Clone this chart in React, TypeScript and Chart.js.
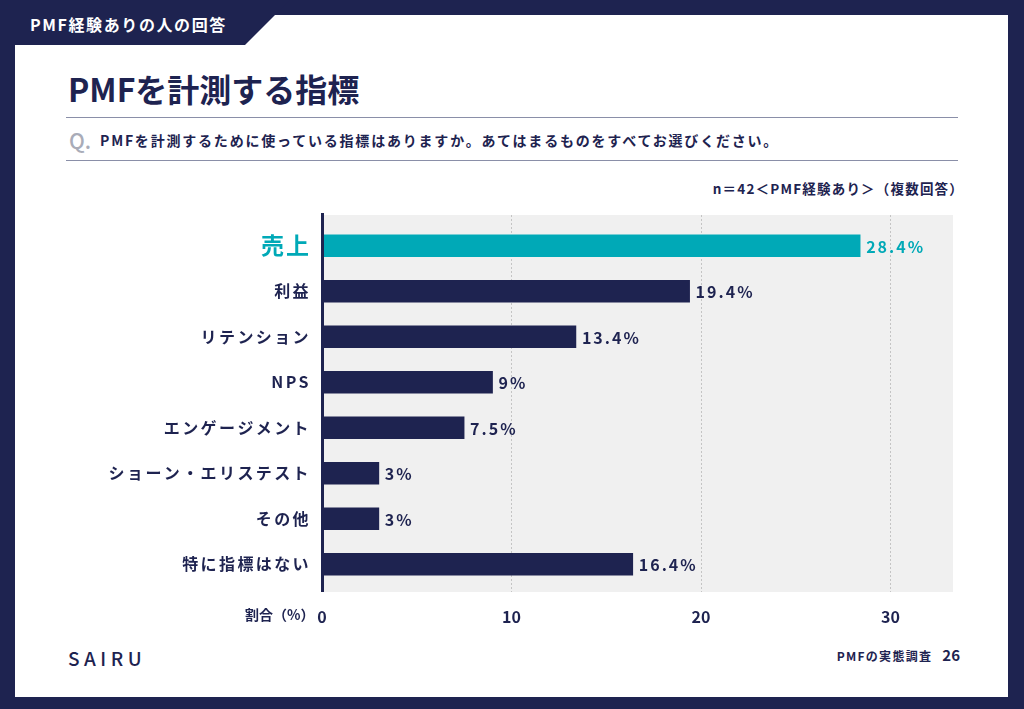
import React, { useEffect, useRef } from "react";
import { Chart, registerables } from "chart.js";

Chart.register(...registerables);

const categories = ["売上", "利益", "リテンション", "NPS", "エンゲージメント", "ショーン・エリステスト", "その他", "特に指標はない"];
const values = [28.4, 19.4, 13.4, 9, 7.5, 3, 3, 16.4];
const valueLabels = ["28.4%", "19.4%", "13.4%", "9%", "7.5%", "3%", "3%", "16.4%"];
const xTickValues = [0, 10, 20, 30];
const xMax = 33.3;

const NAVY = "#1e2350";
const TEAL = "#00a9b7";
const FONT = '"Noto Sans CJK JP", "Noto Sans", sans-serif';

const chartDecor = {
  id: "chartDecor",
  beforeDatasetsDraw(chart: any) {
    const { ctx, chartArea } = chart;
    const x = chart.scales.x;
    ctx.save();
    ctx.fillStyle = "#f0f0f0";
    ctx.fillRect(chartArea.left, chartArea.top - 8, chartArea.right - chartArea.left, chartArea.bottom - chartArea.top + 13);
    ctx.strokeStyle = "#c4c4c4";
    ctx.lineWidth = 1;
    ctx.setLineDash([2, 2]);
    xTickValues.forEach((v) => {
      if (v === 0) return;
      const px = Math.round(x.getPixelForValue(v)) + 0.5;
      ctx.beginPath();
      ctx.moveTo(px, chartArea.top - 8);
      ctx.lineTo(px, chartArea.bottom + 5);
      ctx.stroke();
    });
    ctx.restore();
  },
  afterDatasetsDraw(chart: any) {
    const { ctx, chartArea } = chart;
    const meta = chart.getDatasetMeta(0);
    const y = chart.scales.y;
    ctx.save();
    ctx.fillStyle = NAVY;
    ctx.fillRect(chartArea.left - 1, chartArea.top - 10, 3, chartArea.bottom - chartArea.top + 15);
    ctx.textBaseline = "middle";
    ctx.textAlign = "left";
    (ctx as any).letterSpacing = "2px";
    meta.data.forEach((bar: any, i: number) => {
      ctx.fillStyle = i === 0 ? TEAL : NAVY;
      ctx.font = `700 16px ${FONT}`;
      ctx.fillText(valueLabels[i], bar.x + 6, bar.y + 1);
    });
    ctx.textAlign = "right";
    categories.forEach((c, i) => {
      const py = y.getPixelForValue(i);
      if (i === 0) {
        ctx.fillStyle = TEAL;
        ctx.font = `700 23px ${FONT}`;
        (ctx as any).letterSpacing = "2px";
      } else {
        ctx.fillStyle = NAVY;
        ctx.font = `700 16px ${FONT}`;
        (ctx as any).letterSpacing = "2.4px";
      }
      ctx.fillText(c, chartArea.left - 11, py);
    });
    ctx.restore();
  },
};

function BarChart() {
  const ref = useRef<HTMLCanvasElement | null>(null);
  useEffect(() => {
    if (!ref.current) return;
    const chart = new Chart(ref.current, {
      type: "bar",
      data: {
        labels: categories,
        datasets: [
          {
            data: values,
            backgroundColor: values.map((_, i) => (i === 0 ? TEAL : NAVY)),
            barThickness: 22,
            borderWidth: 0,
          },
        ],
      },
      options: {
        indexAxis: "y",
        animation: false,
        responsive: false,
        devicePixelRatio: 1,
        layout: { padding: { top: 23, right: 47, left: 0, bottom: 0 } },
        plugins: { legend: { display: false }, tooltip: { enabled: false } },
        scales: {
          x: {
            min: 0,
            max: xMax,
            grid: { display: false, drawTicks: false },
            border: { display: false },
            afterBuildTicks: (scale: any) => {
              scale.ticks = xTickValues.map((v) => ({ value: v }));
            },
            afterFit: (scale: any) => {
              scale.height = 53;
            },
            ticks: {
              padding: 20,
              color: NAVY,
              font: { family: FONT, size: 16, weight: "bold" },
              maxRotation: 0,
            },
          },
          y: {
            grid: { display: false, drawTicks: false },
            border: { display: false },
            ticks: { display: false },
            afterFit: (scale: any) => {
              scale.width = 322;
            },
          },
        },
      },
      plugins: [chartDecor],
    } as any);
    return () => chart.destroy();
  }, []);
  return (
    <canvas
      ref={ref}
      width={1000}
      height={440}
      style={{ position: "absolute", left: 0, top: 200, width: 1000, height: 440 }}
    />
  );
}

export default function App() {
  const abs = (s: React.CSSProperties): React.CSSProperties => ({ position: "absolute", ...s });
  return (
    <div style={abs({ left: 0, top: 0, width: 1024, height: 709, background: NAVY, fontFamily: FONT, overflow: "hidden" })}>
      <div style={abs({ left: 15, top: 15, width: 993, height: 682, background: "#ffffff" })} />
      <div
        style={abs({
          left: 0,
          top: 0,
          width: 290,
          height: 45,
          background: NAVY,
          clipPath: "polygon(0 0, 290px 0, 290px 0px, 245px 45px, 0 45px)",
        })}
      />
      <div style={abs({ left: 30, top: 13, color: "#ffffff", fontSize: 16, fontWeight: 700, letterSpacing: 1.6, lineHeight: "22px", whiteSpace: "nowrap" })}>
        PMF経験ありの人の回答
      </div>
      <div style={abs({ left: 68, top: 66, color: NAVY, fontSize: 32, fontWeight: 700, letterSpacing: 0, lineHeight: "44px", whiteSpace: "nowrap" })}>
        PMFを計測する指標
      </div>
      <div style={abs({ left: 66, top: 117, width: 892, height: 0, borderTop: "1.5px solid #8a8fa8" })} />
      <div style={abs({ left: 69, top: 126, color: "#a9acb8", fontSize: 21, fontWeight: 500, lineHeight: "28px", whiteSpace: "nowrap" })}>
        Q.
      </div>
      <div style={abs({ left: 100, top: 130, color: NAVY, fontSize: 14, fontWeight: 700, letterSpacing: 1.8, lineHeight: "20px", whiteSpace: "nowrap" })}>
        PMFを計測するために使っている指標はありますか。あてはまるものをすべてお選びください。
      </div>
      <div style={abs({ left: 66, top: 160, width: 892, height: 0, borderTop: "1.5px solid #8a8fa8" })} />
      <div style={abs({ right: 60, top: 178, color: NAVY, fontSize: 13.5, fontWeight: 700, letterSpacing: 1.2, lineHeight: "20px", whiteSpace: "nowrap" })}>
        n＝42＜PMF経験あり＞（複数回答）
      </div>
      <BarChart />
      <div style={abs({ left: 245, top: 604, color: NAVY, fontSize: 14, fontWeight: 700, lineHeight: "20px", whiteSpace: "nowrap" })}>
        割合（%）
      </div>
      <div style={abs({ left: 68, top: 646, color: NAVY, fontSize: 19, fontWeight: 500, letterSpacing: 4.5, lineHeight: "24px", whiteSpace: "nowrap" })}>
        SAIRU
      </div>
      <div style={abs({ right: 64, top: 645, color: NAVY, fontSize: 12, fontWeight: 700, letterSpacing: 1.3, lineHeight: "20px", whiteSpace: "nowrap" })}>
        PMFの実態調査
        <span style={{ fontSize: 15, marginLeft: 10, letterSpacing: 0 }}>26</span>
      </div>
    </div>
  );
}
